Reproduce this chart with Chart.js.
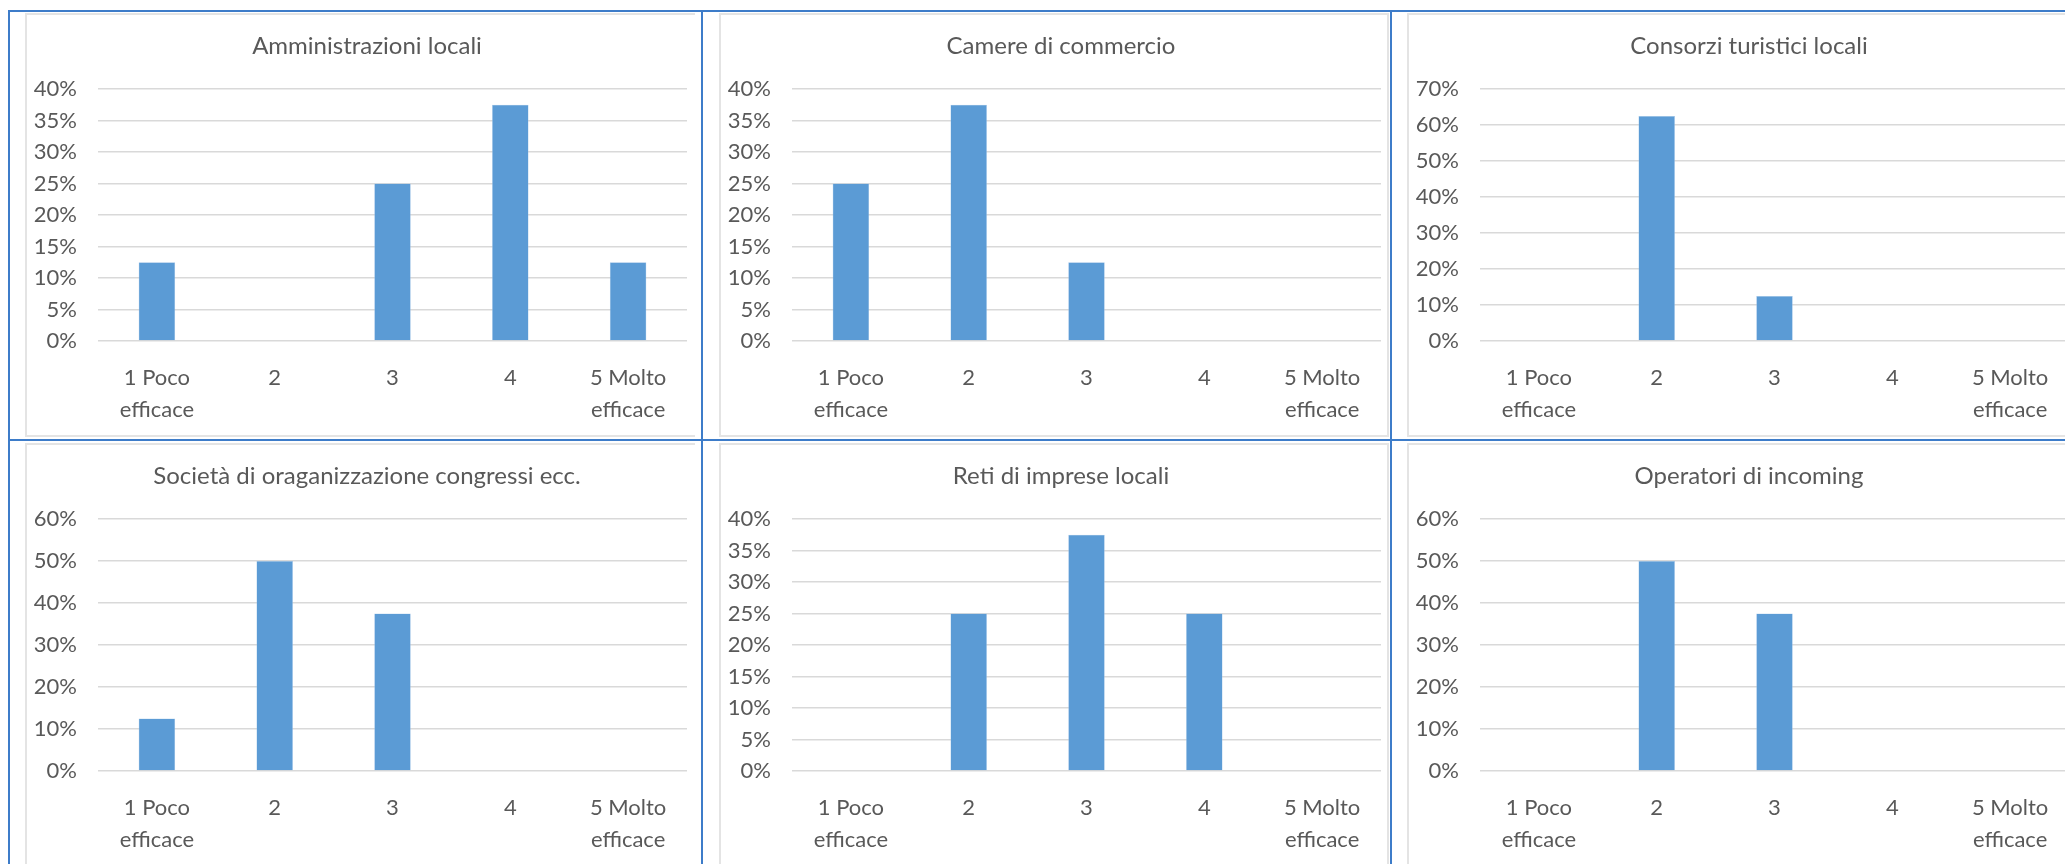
<!DOCTYPE html>
<html>
<head>
<meta charset="utf-8">
<script src="https://cdn.jsdelivr.net/npm/chart.js@4.4.1/dist/chart.umd.min.js"></script>
<style>
  html, body { margin: 0; padding: 0; background: #fff; width: 2065px; height: 864px; overflow: hidden; }
  .hline { position: absolute; height: 2px; background: #3d7cc9; left: 8px; width: 2057px; z-index: 2; }
  .vline { position: absolute; width: 1.5px; background: #3d7cc9; top: 10px; height: 854px; z-index: 2; }
  .box { position: absolute; width: 670px; height: 424px; box-sizing: border-box; border: 2px solid #e4e4e4; }
  .box.first { border-right: none; }
  .box canvas { position: absolute; left: -2px; top: -2px; }
</style>
</head>
<body>
<div class="hline" style="top:10px"></div>
<div class="hline" style="top:439px"></div>
<div class="vline" style="left:8px"></div>
<div class="vline" style="left:701px"></div>
<div class="vline" style="left:1390px"></div>

<div class="box first" style="left:25px;top:13px"><canvas id="c0"></canvas></div>
<div class="box" style="left:719px;top:13px"><canvas id="c1"></canvas></div>
<div class="box" style="left:1407px;top:13px"><canvas id="c2"></canvas></div>
<div class="box first" style="left:25px;top:443px"><canvas id="c3"></canvas></div>
<div class="box" style="left:719px;top:443px"><canvas id="c4"></canvas></div>
<div class="box" style="left:1407px;top:443px"><canvas id="c5"></canvas></div>

<script>
// ---- dati (percentuali) ----
const categories = [["1 Poco", "efficace"], "2", "3", "4", ["5 Molto", "efficace"]];
const titles = [
  "Amministrazioni locali",
  "Camere di commercio",
  "Consorzi turistici locali",
  "Società di oraganizzazione congressi ecc.",
  "Reti di imprese locali",
  "Operatori di incoming"
];
const amministrazioniLocali = [12.5, 0, 25, 37.5, 12.5];
const camereCommercio       = [25, 37.5, 12.5, 0, 0];
const consorziTuristici     = [0, 62.5, 12.5, 0, 0];
const societaCongressi      = [12.5, 50, 37.5, 0, 0];
const retiImprese           = [0, 25, 37.5, 25, 0];
const operatoriIncoming     = [0, 50, 37.5, 0, 0];
const yMax  = [40, 40, 70, 60, 40, 60];
const yStep = [5, 5, 10, 10, 5, 10];

const series = [amministrazioniLocali, camereCommercio, consorziTuristici,
                societaCongressi, retiImprese, operatoriIncoming];

const FONT = "Lato, 'Open Sans', sans-serif";
const TEXT = "#595959";

// sposta un po' il titolo a destra, come in Excel
const titleShift = {
  id: "titleShift",
  afterLayout(chart) {
    const t = chart.titleBlock;
    if (t) { t.left += 11; t.right += 11; }
  }
};

function makeChart(i) {
  const canvas = document.getElementById("c" + i);
  canvas.width = 670; canvas.height = 424;
  canvas.style.width = "670px"; canvas.style.height = "424px";
  return new Chart(canvas.getContext("2d"), {
    type: "bar",
    data: {
      labels: categories,
      datasets: [{
        data: series[i],
        backgroundColor: "#5b9bd5",
        borderColor: "#a9c9ea",
        borderWidth: 0.5,
        barPercentage: 0.31,
        categoryPercentage: 1
      }]
    },
    options: {
      responsive: false,
      animation: false,
      devicePixelRatio: 1,
      layout: { padding: { left: 0, right: 8, top: 0, bottom: 0 } },
      plugins: {
        legend: { display: false },
        tooltip: { enabled: false },
        title: {
          display: true,
          text: titles[i],
          color: TEXT,
          font: { family: FONT, size: 24, weight: "normal", lineHeight: 1.2 },
          padding: { top: 18.6, bottom: 28.6 }
        }
      },
      scales: {
        x: {
          grid: { display: false, drawTicks: false },
          border: { display: false },
          ticks: {
            color: TEXT, maxRotation: 0, autoSkip: false, padding: 21,
            font: { family: FONT, size: 22, lineHeight: 32 / 22 }
          },
          afterFit: (s) => { s.height = 96; }
        },
        y: {
          min: 0, max: yMax[i],
          grid: { color: "#d9d9d9", lineWidth: 1.5, drawTicks: false },
          border: { display: false },
          ticks: {
            stepSize: yStep[i], color: TEXT, padding: 21,
            font: { family: FONT, size: 22 },
            callback: (v) => v + "%"
          },
          afterFit: (s) => { s.width = 73; }
        }
      }
    },
    plugins: [titleShift]
  });
}

for (let i = 0; i < 6; i++) makeChart(i);
</script>
</body>
</html>
